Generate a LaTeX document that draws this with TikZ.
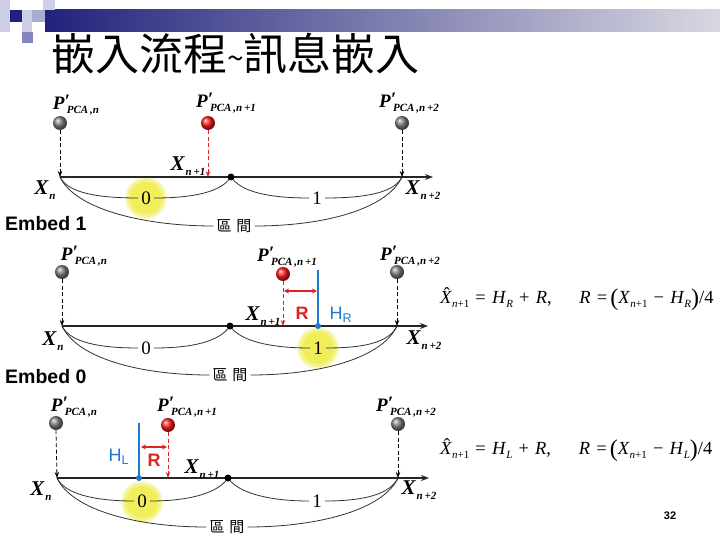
\documentclass[tikz,border=0pt]{standalone}
\usepackage{fontspec}
\setmainfont{Liberation Serif}
\setsansfont{Liberation Sans}
\newfontfamily\cjk{Noto Sans CJK TC}
\usetikzlibrary{arrows.meta,calc,shadings}
\definecolor{navy}{HTML}{1F1F85}
\definecolor{lavA}{HTML}{CDCFE7}
\definecolor{lavB}{HTML}{A9ABD3}
\definecolor{lavC}{HTML}{8486C0}
\definecolor{barL}{HTML}{22227C}
\definecolor{barR}{HTML}{D8D8E2}
\definecolor{hblue}{HTML}{1E78D2}
\definecolor{rred}{HTML}{DC2424}
\definecolor{glow}{HTML}{F0EE5A}
% labels in Times-like bold italic
\newcommand\Plab[1]{{\bfseries\itshape P\raisebox{2pt}{′}\kern-3pt\raisebox{-4.5pt}{\fontsize{11}{11}\selectfont PCA\,,#1}}}
\newcommand\Xlab[1]{{\bfseries\itshape X\kern1pt\raisebox{-5.5pt}{\fontsize{11}{11}\selectfont #1}}}
\newcommand\fsub[1]{\raisebox{-4pt}{\fontsize{11}{11}\selectfont #1}}
\newcommand\bigpar[1]{\raisebox{-1.5pt}{\fontsize{24}{24}\selectfont #1}}
\newcommand\Xhat{\textit{X}\llap{\raisebox{3.5pt}{ˆ}\kern2pt}}
\tikzset{
  axisl/.style={draw=black!85, line width=1.3pt, -{Stealth[length=8pt,width=6pt]}},
  arcl/.style={draw=black!80, line width=0.8pt},
  dropk/.style={draw=black, line width=0.8pt, dash pattern=on 4pt off 2.5pt, -{Stealth[length=6pt,width=4.5pt]}},
  dropr/.style={draw=rred, line width=0.8pt, dash pattern=on 4pt off 2.5pt, -{Stealth[length=6pt,width=4.5pt]}},
  ballk/.style={circle, minimum size=14pt, inner sep=0pt, shade, ball color=black!50},
  ballr/.style={circle, minimum size=14pt, inner sep=0pt, shade, ball color=red!90},
  mlab/.style={inner sep=0pt, font=\fontsize{19}{19}\selectfont},
  xlab/.style={inner sep=0pt, font=\fontsize{21}{21}\selectfont},
  numlab/.style={inner sep=3pt, font=\fontsize{19}{19}\selectfont},
  qjlab/.style={inner sep=3pt, font=\cjk\fontsize{15}{15}\selectfont},
  blueln/.style={draw=hblue, line width=1.5pt},
  redarr/.style={draw=rred, line width=1.2pt, {Stealth[length=5pt,width=5pt]}-{Stealth[length=5pt,width=5pt]}},
  rlab/.style={inner sep=0pt, text=rred, font=\sffamily\bfseries\fontsize{18}{18}\selectfont},
  hlab/.style={inner sep=0pt, text=hblue, font=\sffamily\fontsize{18}{18}\selectfont},
  emb/.style={inner sep=0pt, anchor=west, font=\sffamily\bfseries\fontsize{19.5}{19.5}\selectfont},
  formula/.style={inner sep=0pt, anchor=west, font=\fontsize{18.5}{18.5}\selectfont},
}
\newcommand\glowat[1]{%
  \fill[glow!35] (#1) circle (21pt);
  \fill[glow!70] (#1) circle (19pt);
  \fill[glow] (#1) circle (16pt);}
\newcommand\drawarcs[1]{%
  \draw[arcl] (#1L) .. controls ($(#1L)+(8,16)$) and ($(#1zero.west)+(-40,0)$) .. (#1zero.west);
  \draw[arcl] (#1zero.east) .. controls ($(#1zero.east)+(40,0)$) and ($(#1M)+(-10,15)$) .. (#1M);
  \draw[arcl] (#1M) .. controls ($(#1M)+(10,15)$) and ($(#1one.west)+(-40,0)$) .. (#1one.west);
  \draw[arcl] (#1one.east) .. controls ($(#1one.east)+(40,0)$) and ($(#1R)+(-8,16)$) .. (#1R);
  \draw[arcl] (#1L) .. controls ($(#1L)+(15,32)$) and ($(#1qj.west)+(-70,0)$) .. (#1qj.west);
  \draw[arcl] (#1qj.east) .. controls ($(#1qj.east)+(70,0)$) and ($(#1R)+(-15,32)$) .. (#1R);}
\begin{document}
\begin{tikzpicture}[x=1pt,y=-1pt]
\useasboundingbox (0,0) rectangle (720,540);
\fill[white] (0,0) rectangle (720,540);
% ---- header decoration
\shade[left color=barL, right color=barR] (45,10) rectangle (720,32);
\fill[lavA] (0,0) rectangle (10,32);
\fill[navy] (10,10) rectangle (22,22);
\fill[lavA] (22,10) rectangle (32,22);
\fill[lavB] (32,10) rectangle (45,22);
\fill[lavA] (43,0) rectangle (55,10);
\fill[lavA] (22,22) rectangle (32,32);
\fill[lavC] (22,32) rectangle (33,43);
% ---- title
\node[inner sep=0pt, anchor=west, font=\cjk\fontsize{44}{44}\selectfont] (title) at (51,54)
  {嵌入流程{\fontsize{30}{30}\selectfont\raisebox{1pt}{\char"7E}}訊息嵌入};
% ================= panel 1
\coordinate (aL) at (60,177); \coordinate (aM) at (231,177);
\coordinate (aR) at (402,177); \coordinate (aT) at (433,177);
\coordinate (aD) at (208,177);
\glowat{146,198}
\node[numlab] (azero) at (146,198) {0};
\node[numlab] (aone) at (317,198) {1};
\node[qjlab] (aqj) at (234,226) {區\hspace{5pt}間};
\drawarcs{a}
\draw[axisl] (aL) -- (aT);
\fill (aM) circle (3.5pt);
\node[ballk] (ab1) at (60,123) {};
\node[ballr] (ab2) at (208,123) {};
\node[ballk] (ab3) at (402,123) {};
\draw[dropk] (ab1.south) -- (aL);
\draw[dropr] (ab2.south) -- (aD);
\draw[dropk] (ab3.south) -- (aR);
\node[mlab] (ap1) at (76,105) {\Plab{n}};
\node[mlab] (ap2) at (226,103) {\Plab{n\,+1}};
\node[mlab] (ap3) at (409,103) {\Plab{n\,+2}};
\node[xlab] (ax1) at (45,190) {\Xlab{n}};
\node[xlab] (ax2) at (188,166) {\Xlab{n\,+1}};
\node[xlab] (ax3) at (423,190) {\Xlab{n\,+2}};
\node[emb] (e1) at (5,224) {Embed 1};
% ================= panel 2
\coordinate (bL) at (62,326); \coordinate (bM) at (230,326);
\coordinate (bR) at (397,326); \coordinate (bT) at (428,326);
\coordinate (bD) at (283,326);
\glowat{318,348}
\node[numlab] (bzero) at (146,348) {0};
\node[numlab] (bone) at (318,348) {1};
\node[qjlab] (bqj) at (230,375) {區\hspace{5pt}間};
\drawarcs{b}
\draw[axisl] (bL) -- (bT);
\fill (bM) circle (3.5pt);
\node[ballk] (bb1) at (62,272) {};
\node[ballr] (bb2) at (283,274) {};
\node[ballk] (bb3) at (397,272) {};
\draw[dropk] (bb1.south) -- (bL);
\draw[dropr] (bb2.south) -- (bD);
\draw[dropk] (bb3.south) -- (bR);
\coordinate (bHt) at (318,270); \coordinate (bH) at (318,326);
\draw[blueln] (bHt) -- (bH);
\fill[hblue] (bH) circle (3pt);
\coordinate (bA1) at (284,291); \coordinate (bA2) at (317,291);
\draw[redarr] (bA1) -- (bA2);
\node[rlab] (bRl) at (302,313) {R};
\node[hlab] (bHl) at (341,315) {H\textsubscript{R}};
\node[mlab] (bp1) at (84,256) {\Plab{n}};
\node[mlab] (bp2) at (287,257) {\Plab{n\,+1}};
\node[mlab] (bp3) at (410,256) {\Plab{n\,+2}};
\node[xlab] (bx1) at (53,341) {\Xlab{n}};
\node[xlab] (bx2) at (263,316) {\Xlab{n\,+1}};
\node[xlab] (bx3) at (424,340) {\Xlab{n\,+2}};
\node[formula] (bf) at (440,299) {\Xhat\fsub{\textit{n}+1}\,\,=\,\,\textit{H}\fsub{\textit{R}}\,\,+\,\,\textit{R},\hspace{1.5em}\textit{R}\,\,=\,\bigpar{(}\textit{X}\fsub{\textit{n}+1}\,\,−\,\,\textit{H}\fsub{\textit{R}}\bigpar{)}/4};
\node[emb] (e0) at (5,377) {Embed 0};
% ================= panel 3
\coordinate (cL) at (57,478); \coordinate (cM) at (228,478);
\coordinate (cR) at (398,478); \coordinate (cT) at (429,478);
\coordinate (cD) at (168,478);
\glowat{142,502}
\node[numlab] (czero) at (142,501) {0};
\node[numlab] (cone) at (317,501) {1};
\node[qjlab] (cqj) at (227,527) {區\hspace{5pt}間};
\drawarcs{c}
\draw[axisl] (cL) -- (cT);
\fill (cM) circle (3.5pt);
\node[ballk] (cb1) at (56,423) {};
\node[ballr] (cb2) at (168,425) {};
\node[ballk] (cb3) at (398,424) {};
\draw[dropk] (cb1.south) -- (cL);
\draw[dropr] (cb2.south) -- (cD);
\draw[dropk] (cb3.south) -- (cR);
\coordinate (cHt) at (139,423); \coordinate (cH) at (139,478);
\draw[blueln] (cHt) -- (cH);
\fill[hblue] (cH) circle (3pt);
\coordinate (cA1) at (141,447); \coordinate (cA2) at (167,447);
\draw[redarr] (cA1) -- (cA2);
\node[rlab] (cRl) at (154,460) {R};
\node[hlab] (cHl) at (119,457) {H\textsubscript{L}};
\node[mlab] (cp1) at (74,407) {\Plab{n}};
\node[mlab] (cp2) at (187,407) {\Plab{n\,+1}};
\node[mlab] (cp3) at (406,407) {\Plab{n\,+2}};
\node[xlab] (cx1) at (41,491) {\Xlab{n}};
\node[xlab] (cx2) at (202,469) {\Xlab{n\,+1}};
\node[xlab] (cx3) at (419,490) {\Xlab{n\,+2}};
\node[formula] (cf) at (440,450) {\Xhat\fsub{\textit{n}+1}\,\,=\,\,\textit{H}\fsub{\textit{L}}\,\,+\,\,\textit{R},\hspace{1.5em}\textit{R}\,\,=\,\bigpar{(}\textit{X}\fsub{\textit{n}+1}\,\,−\,\,\textit{H}\fsub{\textit{L}}\bigpar{)}/4};
% page number
\node[inner sep=0pt, font=\sffamily\bfseries\fontsize{11}{11}\selectfont] (pg) at (670,516) {32};
\end{tikzpicture}
\end{document}
